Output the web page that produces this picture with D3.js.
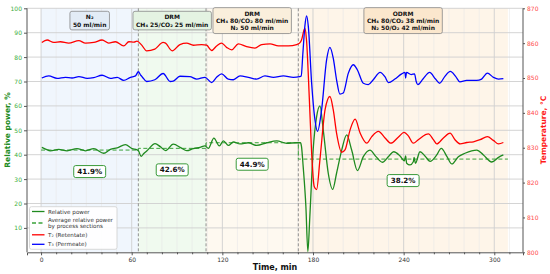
<!DOCTYPE html>
<html><head><meta charset="utf-8">
<script src="https://cdn.jsdelivr.net/npm/d3@7"></script>
<style>body{margin:0;background:#fff;} svg{display:block;font-family:"DejaVu Sans",sans-serif;}</style>
</head><body><svg id="c" width="550" height="274"></svg>
<script>
// ---------------- DATA ----------------
const sectionLabels = [
  ["N₂", "50 ml/min"],
  ["DRM", "CH₄ 25/CO₂ 25 ml/min"],
  ["DRM", "CH₄ 80/CO₂ 80 ml/min", "N₂ 50 ml/min"],
  ["ODRM", "CH₄ 80/CO₂ 38 ml/min", "N₂ 50/O₂ 42 ml/min"]
];
const sectionBounds = [0, 64.4, 109.2, 170.3, 309];
const sectionAverages = [41.9, 42.6, 44.9, 38.2];
const timeTicks = [0, 60, 120, 180, 240, 300];
const powerTicks = [10, 20, 30, 40, 50, 60, 70, 80, 90, 100];
const tempTicks = [800, 810, 820, 830, 840, 850, 860, 870];
const seriesNames = ["Relative power", "Average relative power\nby process sections", "T₂ (Retentate)", "T₃ (Permeate)"];

// relative power, % : [time, value]
const powerData = [[0.5,43.0],[3,42.3],[6.2,41.6],[11.7,42.2],[17.2,41.6],[23.8,42.5],[29.4,41.6],[34.9,42.5],[41.5,40.6],[45.9,42.2],[50.4,42.8],[55.8,44.1],[60.3,42.5],[63.5,42.0],[64.6,41.5],[66.2,39.3],[68,40.5],[70.1,41.6],[75.5,44.5],[78.9,43.3],[82.5,41.65],[87.5,44.3],[92.7,42.8],[96.4,41.65],[100.8,42.5],[105.2,43.0],[108.5,43.6],[110.7,42.6],[114.4,46.8],[118,43.6],[120.7,45.7],[124,43.8],[127.3,45.2],[131.7,44.4],[137.2,44.9],[142.7,43.8],[149.4,44.9],[156,45.7],[162.6,44.7],[169.2,44.9],[171.7,44.9],[172.4,43.3],[173.5,35.1],[175.3,18.7],[176.6,0.3],[177.9,14.6],[180.1,41.9],[182.4,55.6],[184.6,60.0],[186.8,50.1],[190.1,32.4],[193,25.8],[195.6,32.4],[199,41.9],[202.3,48.1],[205.6,41.9],[209.4,33.5],[213.3,39.2],[217.7,41.9],[221.7,39.2],[225.9,36.9],[230.3,39.5],[233.4,41.2],[237.6,39.5],[240.5,37.5],[241.3,39.5],[242,36.5],[244.2,35.8],[246.4,37.1],[246.9,38.9],[247.8,36.5],[250.8,41.2],[254.1,39.5],[257.5,37.3],[261.9,39.9],[264.9,42.6],[268.7,39.2],[271.9,36.2],[276.2,39.2],[280.6,40.6],[288.4,41.9],[292.8,39.9],[298.3,37.0],[302.8,38.9],[306,39.9]];

// T2 retentate, °C
const t2Data = [[0.5,860.2],[4,860.9],[8.4,860.2],[12.8,860.4],[18.3,860.0],[25,860.75],[29.4,860.0],[34.9,860.2],[40.4,860.9],[44.8,860.0],[49.2,860.4],[54.7,859.2],[58.1,860.4],[61.5,860.3],[63.5,860.6],[66.5,859.5],[69.9,857.8],[75.3,858.3],[80.8,860.2],[82.1,860.1],[86.8,857.8],[91.9,859.6],[96.4,860.0],[100.8,859.4],[106.3,859.6],[109.6,859.4],[112.9,857.9],[116.2,859.2],[119.5,860.0],[122.8,858.8],[126.2,858.1],[130.6,859.8],[136.1,859.0],[141.6,858.6],[146,859.6],[151.6,859.8],[157.1,859.2],[163.7,859.2],[169.2,859.6],[171.1,860.0],[172.4,860.9],[174.6,864.3],[175.7,860.9],[177.6,843.8],[179.1,828.5],[180.8,818.9],[182.4,818.0],[184.6,826.6],[188,840.9],[191.2,844.7],[193.4,840.9],[195.6,834.2],[199,828.7],[201.2,829.4],[204.6,835.2],[207.9,838.2],[211.2,834.2],[215.6,831.3],[218.9,833.2],[223.3,834.7],[227.7,832.8],[231.5,831.3],[236.6,833.1],[240.3,834.4],[243.1,833.4],[246.4,831.3],[249.7,832.3],[254.2,833.7],[256.4,834.0],[259.7,832.3],[261.9,831.1],[266.3,832.8],[270.7,834.2],[274,832.3],[277.4,831.1],[281.8,831.5],[286.2,831.7],[290.6,832.3],[295.4,833.2],[299.4,832.1],[302.8,831.1],[306,831.5]];

// T3 permeate, °C
const t3Data = [[0.5,850.0],[5.1,850.6],[10.6,849.9],[16.1,850.2],[20.5,850.0],[25,850.4],[30.5,849.9],[34.9,850.1],[40.4,850.8],[45.9,849.9],[50.4,850.2],[54.7,849.3],[59.2,850.2],[62.5,850.6],[64.4,851.8],[66,850.8],[67,850.3],[69.9,849.0],[75.3,849.5],[80.8,851.3],[85.5,849.0],[87.5,849.1],[91.9,850.5],[98.5,850.4],[103,849.7],[108.5,850.2],[112.9,848.7],[116.2,850.2],[119.5,851.2],[123.9,849.7],[127.3,849.5],[131.7,850.6],[137.2,850.2],[142.7,849.7],[148.2,850.6],[153.8,850.2],[160.4,850.6],[167,850.2],[171.1,850.4],[172.2,850.6],[173.3,857.1],[174.7,865.2],[175.8,867.8],[176.9,864.8],[179.1,848.5],[181.3,838.0],[183,834.7],[185.7,840.9],[189,855.2],[191.2,858.8],[193.4,855.7],[195.6,849.5],[197.8,845.4],[200,845.7],[203.4,851.4],[206.7,853.8],[209.4,852.3],[213.3,848.5],[216.6,848.1],[219.9,849.5],[224.4,851.6],[227.7,850.3],[229.9,848.7],[234.2,849.7],[238.7,851.2],[240.9,851.6],[241.3,850.0],[241.9,851.6],[245,851.0],[247.2,851.2],[248.3,849.0],[249.4,848.1],[252.8,849.7],[257.2,851.6],[261.1,849.7],[263.8,848.5],[267.2,850.4],[270.9,851.9],[274.5,850.4],[277.2,848.9],[281.7,849.3],[288.3,849.3],[291.6,849.7],[295.4,851.4],[299.4,850.2],[302.8,849.7],[306,849.8]];

// ---------------- CHART ----------------
const svg = d3.select("#c");
const L = 27, R = 523, T = 8.3, B = 252.3;
const x = d3.scaleLinear().domain([-9.3, 319]).range([L, R]);
const yP = d3.scaleLinear().domain([0, 100]).range([B, T]);
const yT = d3.scaleLinear().domain([800, 870]).range([B, T]);

const shadeColors = ["#f0f6fd", "#f0faef", "#fef9f0", "#fef5e9"];
const boxColors = ["#e3ecf6", "#e4f3e2", "#faefdc", "#fbe7cd"];
const GREEN = "#1f8a1f", RED = "#ff0000", BLUE = "#0000ff";

// shading
sectionAverages.forEach((a, i) => {
  svg.append("rect").attr("x", x(sectionBounds[i])).attr("y", T)
    .attr("width", x(sectionBounds[i+1]) - x(sectionBounds[i])).attr("height", B - T)
    .attr("fill", shadeColors[i]);
});

// grid
const minor = d3.range(-0, 320, 10).filter(v => v % 60 !== 0);
svg.append("g").selectAll("line").data(minor).join("line")
  .attr("x1", d => x(d)).attr("x2", d => x(d)).attr("y1", T).attr("y2", B)
  .attr("stroke", "#e8e8e8").attr("stroke-width", 0.6);
svg.append("g").selectAll("line").data(timeTicks).join("line")
  .attr("x1", d => x(d)).attr("x2", d => x(d)).attr("y1", T).attr("y2", B)
  .attr("stroke", "#cfcfcf").attr("stroke-width", 0.9);
svg.append("g").selectAll("line").data(powerTicks).join("line")
  .attr("x1", L).attr("x2", R).attr("y1", d => yP(d)).attr("y2", d => yP(d))
  .attr("stroke", "#cfcfcf").attr("stroke-width", 0.9);

// section dividers
svg.append("g").selectAll("line").data(sectionBounds.slice(1, 4)).join("line")
  .attr("x1", d => x(d)).attr("x2", d => x(d)).attr("y1", T).attr("y2", B)
  .attr("stroke", "#777").attr("stroke-width", 0.8).attr("stroke-dasharray", "3,2");

// axes
const axB = svg.append("g").attr("transform", `translate(0,${B})`)
  .call(d3.axisBottom(x).tickValues(timeTicks).tickSize(3).tickPadding(2));
svg.append("g").attr("transform", `translate(0,${B})`)
  .call(d3.axisBottom(x).tickValues(minor).tickSize(2).tickFormat(""))
  .call(g => g.select(".domain").remove())
  .call(g => g.selectAll(".tick line").attr("stroke", "#555"));
const axL = svg.append("g").attr("transform", `translate(${L},0)`)
  .call(d3.axisLeft(yP).tickValues(powerTicks).tickSize(3).tickPadding(2));
const axR = svg.append("g").attr("transform", `translate(${R},0)`)
  .call(d3.axisRight(yT).tickValues(tempTicks).tickSize(2).tickPadding(2));
[axB, axL, axR].forEach(g => {
  g.selectAll("text").attr("font-size", 6).attr("font-family", "DejaVu Sans");
  g.select(".domain").attr("stroke", "#555");
  g.selectAll(".tick line").attr("stroke", "#555");
});
axB.selectAll("text").attr("fill", "#333");
axL.selectAll("text").attr("fill", "#3cae3c");
axR.selectAll("text").attr("fill", "#ff4a4a");
axL.select(".domain").attr("d", `M0,${T}V${B}`);
axR.select(".domain").attr("d", `M0,${T}V${B}`);

// average dashed step line
const avgPts = [];
sectionAverages.forEach((a, i) => { avgPts.push([sectionBounds[i], a]); avgPts.push([sectionBounds[i+1], a]); });
svg.append("path").datum(avgPts)
  .attr("d", d3.line().x(d => x(d[0])).y(d => yP(d[1])))
  .attr("fill", "none").attr("stroke", "#3aa23a").attr("stroke-width", 1).attr("stroke-dasharray", "4,2.5");

const curve = d3.curveMonotoneX;
svg.append("path").datum(powerData)
  .attr("d", d3.line().curve(curve).x(d => x(d[0])).y(d => yP(d[1])))
  .attr("fill", "none").attr("stroke", GREEN).attr("stroke-width", 1.3);
svg.append("path").datum(t2Data)
  .attr("d", d3.line().curve(curve).x(d => x(d[0])).y(d => yT(d[1])))
  .attr("fill", "none").attr("stroke", RED).attr("stroke-width", 1.3);
svg.append("path").datum(t3Data)
  .attr("d", d3.line().curve(curve).x(d => x(d[0])).y(d => yT(d[1])))
  .attr("fill", "none").attr("stroke", BLUE).attr("stroke-width", 1.3);

// percentage labels
sectionAverages.forEach((a, i) => {
  const cx = x((sectionBounds[i] + sectionBounds[i+1]) / 2);
  const cy = yP(a) + 21.5;
  const g = svg.append("g");
  const t = g.append("text").attr("x", cx).attr("y", cy).attr("text-anchor", "middle")
    .attr("dominant-baseline", "central").attr("font-size", 7.2).attr("font-weight", "bold")
    .attr("fill", "#111").text(a.toFixed(1) + "%");
  const bb = t.node().getBBox();
  g.insert("rect", "text").attr("x", bb.x - 3.5).attr("y", cy - 6).attr("width", bb.width + 7).attr("height", 12)
    .attr("rx", 2).attr("fill", "#fff").attr("stroke", "#3a9a3a").attr("stroke-width", 1);
});

// section annotation boxes
sectionLabels.forEach((lines, i) => {
  const cx = x((sectionBounds[i] + sectionBounds[i+1]) / 2);
  const lh = 7.3;
  const cy = 20.6;
  const g = svg.append("g");
  const y0 = cy - (lines.length - 1) * lh / 2;
  const t = g.append("text").attr("text-anchor", "middle").attr("font-size", 6).attr("font-weight", "bold").attr("fill", "#111");
  lines.forEach((s, j) => t.append("tspan").attr("x", cx).attr("y", y0 + j * lh).attr("dominant-baseline", "central").text(s));
  const bb = t.node().getBBox();
  const h = lines.length * lh + 4;
  g.insert("rect", "text").attr("x", bb.x - 3).attr("y", cy - h / 2).attr("width", bb.width + 6).attr("height", h)
    .attr("rx", 2).attr("fill", boxColors[i]).attr("stroke", "#888").attr("stroke-width", 0.8);
});

// legend
const lg = svg.append("g");
lg.append("rect").attr("x", 29.5).attr("y", 206.7).attr("width", 87.5).attr("height", 42.6)
  .attr("rx", 2).attr("fill", "#fff").attr("fill-opacity", 0.9).attr("stroke", "#cfcfcf").attr("stroke-width", 0.8);
const legItems = [
  {ly: 211.5, ty: [211.5], color: GREEN, dash: null},
  {ly: 223, ty: [220.3, 226.3], color: "#3aa23a", dash: "4,2.5"},
  {ly: 234.8, ty: [234.8], color: RED, dash: null},
  {ly: 244.3, ty: [244.3], color: BLUE, dash: null}
];
legItems.forEach((it, i) => {
  lg.append("line").attr("x1", 32).attr("x2", 44.5).attr("y1", it.ly).attr("y2", it.ly)
    .attr("stroke", it.color).attr("stroke-width", 1.3).attr("stroke-dasharray", it.dash);
  const parts = seriesNames[i].split("\n");
  parts.forEach((p, j) => lg.append("text").attr("x", 48).attr("y", it.ty[j]).attr("dominant-baseline", "central")
    .attr("font-size", 5.6).attr("fill", "#333").text(p));
});

// axis titles
svg.append("text").attr("transform", `translate(7,130) rotate(-90)`).attr("text-anchor", "middle")
  .attr("dominant-baseline", "central").attr("font-size", 7.5).attr("font-weight", "bold").attr("fill", "#228b22")
  .text("Relative power, %");
svg.append("text").attr("transform", `translate(543,130) rotate(-90)`).attr("text-anchor", "middle")
  .attr("dominant-baseline", "central").attr("font-size", 7.5).attr("font-weight", "bold").attr("fill", "#ff1a1a")
  .text("Temperature, °C");
svg.append("text").attr("x", 275).attr("y", 267.5).attr("text-anchor", "middle")
  .attr("dominant-baseline", "central").attr("font-size", 8).attr("font-weight", "bold").attr("fill", "#111")
  .text("Time, min");
</script></body></html>
